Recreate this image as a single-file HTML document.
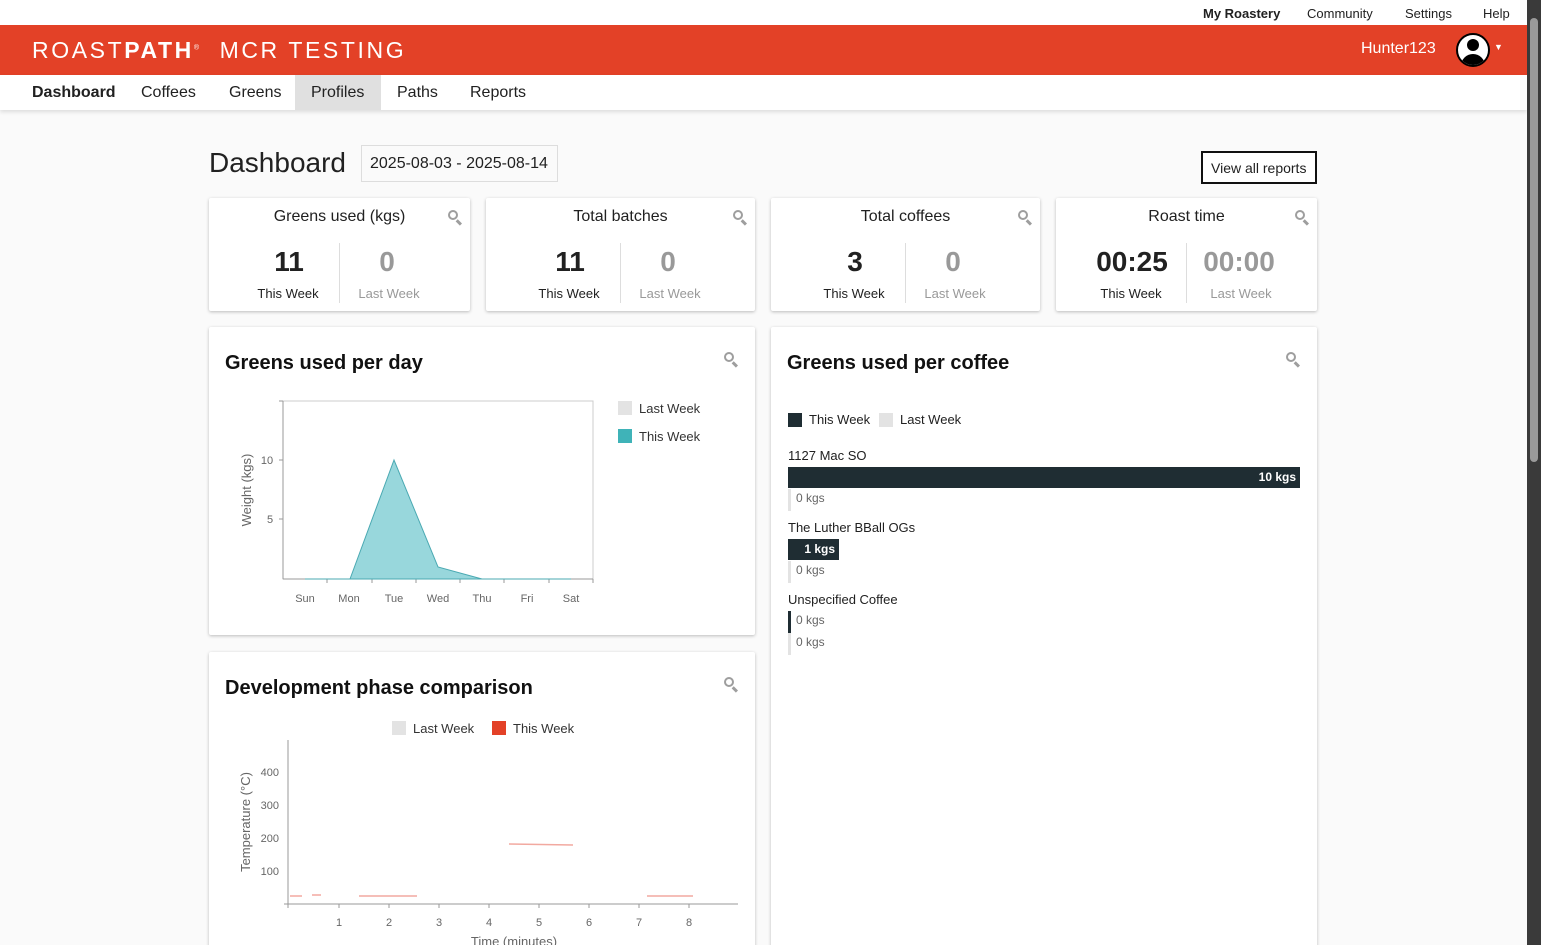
<!DOCTYPE html>
<html style="overflow:hidden;height:945px"><head><meta charset="utf-8"><style>
*{box-sizing:border-box;margin:0;padding:0}
html,body{overflow:hidden}
body{width:1541px;height:945px;background:#fafafa;font-family:"Liberation Sans",Roboto,sans-serif;color:#212121;position:relative}
.a{position:absolute}
.card{position:absolute;background:#fff;box-shadow:0 1px 3px rgba(0,0,0,.25);border-radius:2px}
.st .t{position:absolute;top:10px;width:100%;text-align:center;font-size:16px}
.num{position:absolute;font-size:28px;font-weight:bold;text-align:center;width:100px}
.lbl{position:absolute;font-size:13px;text-align:center;width:100px}
.mag{position:absolute;width:10px;height:10px;border:2.5px solid #9e9e9e;border-radius:50%}
.mag:after{content:"";position:absolute;width:6px;height:2.5px;background:#9e9e9e;transform:rotate(45deg);left:6px;top:9px}
.h{position:absolute;font-size:20px;font-weight:bold;color:#111}
.s{font-size:12px;color:#666}
</style></head><body>
<div class="a" style="left:0;top:0;width:1527px;height:25px;background:#fff;font-size:13px">
<span class="a" style="left:1203px;top:6px;font-weight:bold">My Roastery</span>
<span class="a" style="left:1307px;top:6px">Community</span>
<span class="a" style="left:1405px;top:6px">Settings</span>
<span class="a" style="left:1483px;top:6px">Help</span></div>
<div class="a" style="left:0;top:25px;width:1527px;height:50px;background:#e34127;color:#fff">
<span class="a" style="left:32px;top:12px;font-size:23px;letter-spacing:2.6px;white-space:nowrap">ROAST<b>PATH</b><sup style="font-size:7px">®</sup>&nbsp; MCR TESTING</span>
<span class="a" style="left:1361px;top:15px;font-size:16px">Hunter123</span>
<div class="a" style="left:1456px;top:8px;width:34px;height:34px;border-radius:50%;background:#fff;border:2px solid #000;overflow:hidden">
<div class="a" style="left:9px;top:4px;width:12px;height:12px;border-radius:50%;background:#000"></div>
<div class="a" style="left:3px;top:19px;width:24px;height:16px;border-radius:12px 12px 0 0;background:#000"></div></div>
<span class="a" style="left:1494px;top:17px;font-size:9px">▼</span></div>
<div class="a" style="left:0;top:75px;width:1527px;height:35px;background:#fff;box-shadow:0 2px 4px rgba(0,0,0,.12);font-size:16px">
<span class="a" style="left:32px;top:9px;font-weight:bold">Dashboard</span>
<span class="a" style="left:141px;top:9px">Coffees</span>
<span class="a" style="left:229px;top:9px">Greens</span>
<div class="a" style="left:295px;top:0;width:86px;height:35px;background:#e0e0e0"></div>
<span class="a" style="left:311px;top:9px">Profiles</span>
<span class="a" style="left:397px;top:9px">Paths</span>
<span class="a" style="left:470px;top:9px">Reports</span></div>
<div class="a" style="left:1527px;top:0;width:14px;height:945px;background:#3a3a3a"><div class="a" style="left:3px;top:18px;width:8px;height:444px;background:#9a9a9a;border-radius:4px"></div></div>

<span class="a" style="left:209px;top:147px;font-size:28px;font-weight:500">Dashboard</span>
<div class="a" style="left:361px;top:145px;width:197px;height:37px;border:1px solid #ddd;font-size:16px;padding:9px 8px">2025-08-03 - 2025-08-14</div>
<div class="a" style="left:1201px;top:151px;width:116px;height:33px;border:2px solid #111;font-size:14px;padding:7px 8px;background:#fff">View all reports</div>

<div class="card st" style="left:209px;top:198px;width:261px;height:113px"><div class="t">Greens used (kgs)</div><div class="mag" style="left:239px;top:12px"></div>
<div class="num" style="left:30px;top:48px">11</div><div class="lbl" style="left:29px;top:88px">This Week</div>
<div class="a" style="left:130px;top:45px;width:1px;height:60px;background:#ddd"></div>
<div class="num" style="left:128px;top:48px;color:#999">0</div><div class="lbl" style="left:130px;top:88px;color:#999">Last Week</div></div>
<div class="card st" style="left:486px;top:198px;width:269px;height:113px"><div class="t">Total batches</div><div class="mag" style="left:247px;top:12px"></div>
<div class="num" style="left:34px;top:48px">11</div><div class="lbl" style="left:33px;top:88px">This Week</div>
<div class="a" style="left:134px;top:45px;width:1px;height:60px;background:#ddd"></div>
<div class="num" style="left:132px;top:48px;color:#999">0</div><div class="lbl" style="left:134px;top:88px;color:#999">Last Week</div></div>
<div class="card st" style="left:771px;top:198px;width:269px;height:113px"><div class="t">Total coffees</div><div class="mag" style="left:247px;top:12px"></div>
<div class="num" style="left:34px;top:48px">3</div><div class="lbl" style="left:33px;top:88px">This Week</div>
<div class="a" style="left:134px;top:45px;width:1px;height:60px;background:#ddd"></div>
<div class="num" style="left:132px;top:48px;color:#999">0</div><div class="lbl" style="left:134px;top:88px;color:#999">Last Week</div></div>
<div class="card st" style="left:1056px;top:198px;width:261px;height:113px"><div class="t">Roast time</div><div class="mag" style="left:239px;top:12px"></div>
<div class="num" style="left:26px;top:48px">00:25</div><div class="lbl" style="left:25px;top:88px">This Week</div>
<div class="a" style="left:130px;top:45px;width:1px;height:60px;background:#ddd"></div>
<div class="num" style="left:133px;top:48px;color:#999">00:00</div><div class="lbl" style="left:135px;top:88px;color:#999">Last Week</div></div>

<div class="card" style="left:209px;top:327px;width:546px;height:308px"><div class="h" style="left:16px;top:25px">Greens used per day</div><div class="mag" style="left:515px;top:25px"></div></div>
<svg class="a" style="left:0;top:0" width="1541" height="945" font-family="Liberation Sans,sans-serif">
<rect x="283" y="401" width="310" height="178" fill="none" stroke="#ccc"/>
<line x1="283" y1="401" x2="283" y2="579" stroke="#999"/><line x1="283" y1="579" x2="593" y2="579" stroke="#999"/>
<g stroke="#999"><line x1="279" y1="460" x2="283" y2="460"/><line x1="279" y1="519" x2="283" y2="519"/><line x1="279" y1="401" x2="283" y2="401"/>
<line x1="327" y1="579" x2="327" y2="583"/><line x1="372" y1="579" x2="372" y2="583"/><line x1="416" y1="579" x2="416" y2="583"/><line x1="460" y1="579" x2="460" y2="583"/><line x1="504" y1="579" x2="504" y2="583"/><line x1="549" y1="579" x2="549" y2="583"/><line x1="593" y1="579" x2="593" y2="583"/></g>
<polygon points="350,579 394,460 438,567 482,579" fill="#98d7dc" stroke="#4aa9b2"/>
<line x1="305" y1="579" x2="571" y2="579" stroke="#4aa9b2"/>
<g font-size="11" fill="#666" text-anchor="middle"><text x="305" y="602">Sun</text><text x="349" y="602">Mon</text><text x="394" y="602">Tue</text><text x="438" y="602">Wed</text><text x="482" y="602">Thu</text><text x="527" y="602">Fri</text><text x="571" y="602">Sat</text>
<text x="267" y="464">10</text><text x="270" y="523">5</text>
<text transform="translate(251,490) rotate(-90)" font-size="13">Weight (kgs)</text></g>
<rect x="618" y="401" width="14" height="14" fill="#e3e3e3"/><text x="639" y="413" font-size="13" fill="#333">Last Week</text>
<rect x="618" y="429" width="14" height="14" fill="#3fb3b8"/><text x="639" y="441" font-size="13" fill="#333">This Week</text>
</svg>

<div class="card" style="left:771px;top:327px;width:546px;height:630px"><div class="h" style="left:16px;top:25px">Greens used per coffee</div><div class="mag" style="left:515px;top:25px"></div>
<div class="a" style="left:17px;top:86px;width:14px;height:14px;background:#1f2d33"></div><span class="a" style="left:38px;top:85px;font-size:13px">This Week</span>
<div class="a" style="left:108px;top:86px;width:14px;height:14px;background:#e3e3e3"></div><span class="a" style="left:129px;top:85px;font-size:13px">Last Week</span>
<span class="a" style="left:17px;top:121px;font-size:13px">1127 Mac SO</span>
<div class="a" style="left:17px;top:140px;width:512px;height:21px;background:#1f2d33;color:#fff;font-size:12px;font-weight:bold;text-align:right;padding:3px 4px">10 kgs</div>
<div class="a" style="left:17px;top:162px;width:3px;height:22px;background:#e3e3e3"></div><span class="a s" style="left:25px;top:164px">0 kgs</span>
<span class="a" style="left:17px;top:193px;font-size:13px">The Luther BBall OGs</span>
<div class="a" style="left:17px;top:212px;width:51px;height:21px;background:#1f2d33;color:#fff;font-size:12px;font-weight:bold;text-align:right;padding:3px 4px">1 kgs</div>
<div class="a" style="left:17px;top:234px;width:3px;height:22px;background:#e3e3e3"></div><span class="a s" style="left:25px;top:236px">0 kgs</span>
<span class="a" style="left:17px;top:265px;font-size:13px">Unspecified Coffee</span>
<div class="a" style="left:17px;top:284px;width:3px;height:22px;background:#1f2d33"></div><span class="a s" style="left:25px;top:286px">0 kgs</span>
<div class="a" style="left:17px;top:306px;width:3px;height:22px;background:#e3e3e3"></div><span class="a s" style="left:25px;top:308px">0 kgs</span>
</div>

<div class="card" style="left:209px;top:652px;width:546px;height:310px"><div class="h" style="left:16px;top:25px">Development phase comparison</div><div class="mag" style="left:515px;top:25px"></div></div>
<svg class="a" style="left:0;top:0" width="1541" height="945" font-family="Liberation Sans,sans-serif">
<rect x="392" y="721" width="14" height="14" fill="#e3e3e3"/><text x="413" y="733" font-size="13" fill="#333">Last Week</text>
<rect x="492" y="721" width="14" height="14" fill="#e34127"/><text x="513" y="733" font-size="13" fill="#333">This Week</text>
<line x1="288" y1="740" x2="288" y2="908" stroke="#999"/><line x1="284" y1="904" x2="738" y2="904" stroke="#999"/>
<g stroke="#999"><line x1="339" y1="904" x2="339" y2="908"/><line x1="389" y1="904" x2="389" y2="908"/><line x1="439" y1="904" x2="439" y2="908"/><line x1="489" y1="904" x2="489" y2="908"/><line x1="539" y1="904" x2="539" y2="908"/><line x1="589" y1="904" x2="589" y2="908"/><line x1="639" y1="904" x2="639" y2="908"/><line x1="689" y1="904" x2="689" y2="908"/></g>
<g font-size="11" fill="#666" text-anchor="middle"><text x="339" y="926">1</text><text x="389" y="926">2</text><text x="439" y="926">3</text><text x="489" y="926">4</text><text x="539" y="926">5</text><text x="589" y="926">6</text><text x="639" y="926">7</text><text x="689" y="926">8</text>
<text x="514" y="946" font-size="13">Time (minutes)</text>
<g text-anchor="end"><text x="279" y="776">400</text><text x="279" y="809">300</text><text x="279" y="842">200</text><text x="279" y="875">100</text></g>
<text transform="translate(250,822) rotate(-90)" font-size="13">Temperature (°C)</text></g>
<g stroke="#f2a9a0" stroke-width="1.5"><line x1="290" y1="896" x2="302" y2="896"/><line x1="312" y1="895" x2="321" y2="895"/><line x1="359" y1="896" x2="417" y2="896"/><line x1="509" y1="844" x2="573" y2="845"/><line x1="647" y1="896" x2="693" y2="896"/></g>
</svg>
</body></html>
